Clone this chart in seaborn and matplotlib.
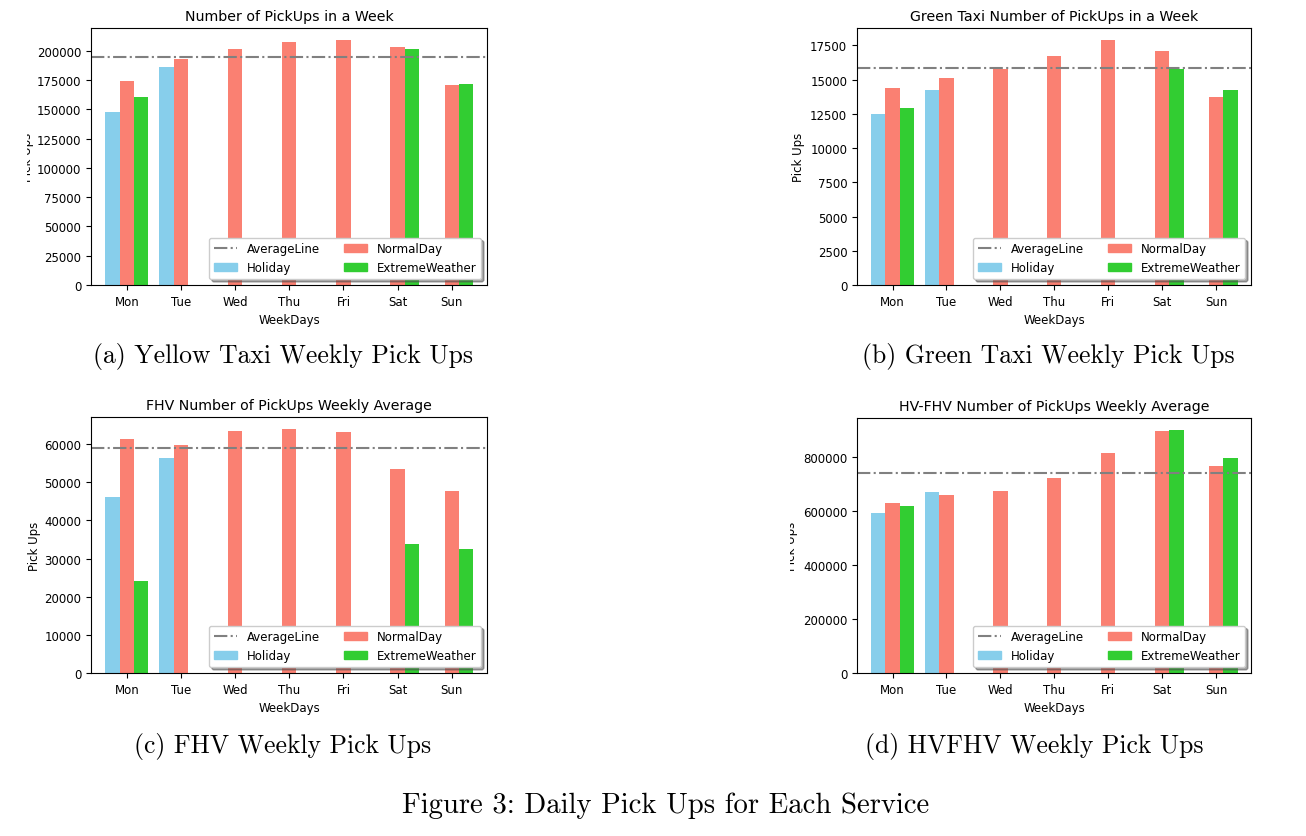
import pandas as pd
import numpy as np
import matplotlib
matplotlib.use("Agg")
import matplotlib.pyplot as plt
import seaborn as sns
from matplotlib.lines import Line2D
from matplotlib.patches import Patch
from matplotlib.transforms import Bbox

days = ["Mon", "Tue", "Wed", "Thu", "Fri", "Sat", "Sun"]
kinds = ["Holiday", "NormalDay", "ExtremeWeather"]

# holiday only on Mon/Tue, extreme weather only on Mon/Sat/Sun (None = no bar)
yellow_holiday = [147700, 186300, None, None, None, None, None]
yellow_normal = [174600, 193100, 201400, 207400, 209100, 203700, 170900]
yellow_extreme = [160600, None, None, None, None, 202000, 172000]
yellow_avg = 194400

green_holiday = [12520, 14230, None, None, None, None, None]
green_normal = [14400, 15090, 15770, 16720, 17870, 17090, 13690]
green_extreme = [12910, None, None, None, None, 15790, 14230]
green_avg = 15810

fhv_holiday = [46200, 56400, None, None, None, None, None]
fhv_normal = [61300, 59800, 63400, 63900, 63100, 53500, 47600]
fhv_extreme = [24000, None, None, None, None, 33900, 32500]
fhv_avg = 59100

hvfhv_holiday = [593000, 672000, None, None, None, None, None]
hvfhv_normal = [631000, 661000, 676000, 724000, 816000, 895000, 766000]
hvfhv_extreme = [620000, None, None, None, None, 900000, 795000]
hvfhv_avg = 740000

titles = [
    "Number of PickUps in a Week",
    "Green Taxi Number of PickUps in a Week",
    "FHV Number of PickUps Weekly Average",
    "HV-FHV Number of PickUps Weekly Average",
]
captions = [
    "(a) Yellow Taxi Weekly Pick Ups",
    "(b) Green Taxi Weekly Pick Ups",
    "(c) FHV Weekly Pick Ups",
    "(d) HVFHV Weekly Pick Ups",
]
figure_caption = "Figure 3: Daily Pick Ups for Each Service"

palette = {"Holiday": "skyblue", "NormalDay": "salmon", "ExtremeWeather": "limegreen"}

W, H = 1306, 837


def BuildFrame(holiday, normal, extreme):
    rows = []
    for kind, values in zip(kinds, [holiday, normal, extreme]):
        for day, v in zip(days, values):
            if v is not None:
                rows.append({"day": day, "kind": kind, "pickups": v})
    return pd.DataFrame(rows)


def DrawPanel(ax, df, avg, title, label_x, clip_left=None):
    sns.barplot(data=df, x="day", y="pickups", hue="kind", order=days,
                hue_order=kinds, palette=palette, saturation=1,
                errorbar=None, linewidth=0, legend=False, ax=ax)
    ax.axhline(avg, color="grey", linestyle="-.", linewidth=1.5)
    ax.set_xlim(-0.66, 6.65)
    ax.set_title(title)
    ax.set_xlabel("WeekDays")
    ax.set_ylabel("Pick Ups")
    ax.yaxis.set_label_coords(label_x, 0.5)

    handles = [Line2D([], [], color="grey", linestyle="-.", linewidth=1.5)]
    handles += [Patch(color=palette[k]) for k in ["Holiday", "NormalDay", "ExtremeWeather"]]
    labels = ["AverageLine", "Holiday", "NormalDay", "ExtremeWeather"]
    ax.legend(handles, labels, loc="lower right", ncol=2, shadow=True)

    # the source panels were cropped, cutting part of the y label
    if clip_left is not None:
        lab = ax.yaxis.label
        lab.set_clip_box(Bbox.from_extents(clip_left, 0, W, H))
        lab.set_clip_on(True)


def main():
    plt.rcParams["font.size"] = 8.5
    fig = plt.figure(figsize=(W / 100, H / 100), dpi=100)

    boxes = [
        (91, 29, 487, 286),
        (857, 29, 1251, 286),
        (91, 418, 487, 674),
        (857, 419, 1251, 674),
    ]
    # (holiday, normal, extreme, avg, ylabel right edge px from axes, clip x)
    data = [
        (yellow_holiday, yellow_normal, yellow_extreme, yellow_avg, 57, 27),
        (green_holiday, green_normal, green_extreme, green_avg, 52, None),
        (fhv_holiday, fhv_normal, fhv_extreme, fhv_avg, 50, None),
        (hvfhv_holiday, hvfhv_normal, hvfhv_extreme, hvfhv_avg, 59, 790),
    ]
    for i, (box, d) in enumerate(zip(boxes, data)):
        x0, y0, x1, y1 = box
        ax = fig.add_axes([x0 / W, 1 - y1 / H, (x1 - x0) / W, (y1 - y0) / H])
        df = BuildFrame(d[0], d[1], d[2])
        DrawPanel(ax, df, d[3], titles[i], -d[4] / (x1 - x0), d[5])

    cap_pos = [(283, 357), (1048, 357), (283, 746), (1034, 746)]
    for text, (cx, cy) in zip(captions, cap_pos):
        fig.text(cx / W, 1 - cy / H, text, family="cmr10", fontsize=18.5,
                 ha="center", va="center")
    fig.text(666 / W, 1 - 806 / H, figure_caption, family="cmr10", fontsize=20.7,
             ha="center", va="center")

    fig.savefig("out.png", dpi=100)


if __name__ == "__main__":
    main()
